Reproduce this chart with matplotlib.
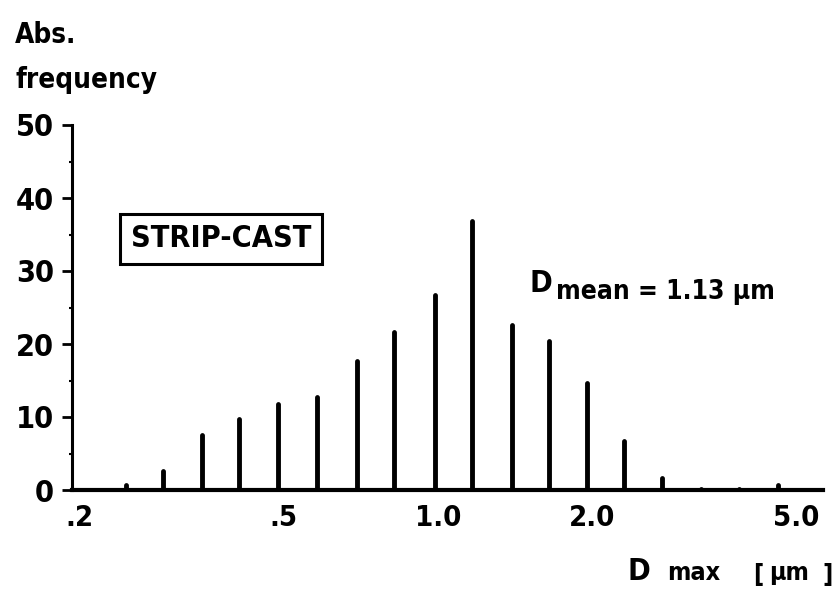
import matplotlib
matplotlib.use('Agg')
import matplotlib.pyplot as plt
from matplotlib.ticker import FixedLocator, NullLocator

# ---- data ----
sizes_um = [0.247, 0.291, 0.347, 0.410, 0.488, 0.582, 0.696, 0.822, 0.988,
            1.166, 1.395, 1.647, 1.953, 2.306, 2.734, 3.25, 3.87, 4.60]
abs_freq = [0.7, 2.6, 7.6, 9.7, 11.8, 12.7, 17.7, 21.7, 26.7,
            36.8, 22.6, 20.4, 14.6, 6.7, 1.7, 0.2, 0.2, 0.7]
y_ticks = [0, 10, 20, 30, 40, 50]
y_minor = [5, 15, 25, 35, 45]
x_ticks = [0.2, 0.5, 1.0, 2.0, 5.0]
x_tick_labels = ['.2', '.5', '1.0', '2.0', '5.0']

W, H = 840, 597
FONT = dict(family=['DejaVu Sans'], fontweight='bold', fontstretch='condensed', color='black')

fig = plt.figure(figsize=(W / 100, H / 100), dpi=100)
ax = fig.add_axes([72 / W, 1 - 490 / H, 751 / W, 365 / H])
ax.set_xscale('log')
ax.set_xlim(0.1937, 5.63)
ax.set_ylim(0, 50)

lc = ax.vlines(sizes_um, 0, abs_freq, color='black', linewidth=3.5)
lc.set_capstyle('round')

for s in ['top', 'right']:
    ax.spines[s].set_visible(False)
ax.spines['left'].set_linewidth(2.2)
ax.spines['bottom'].set_linewidth(3.0)

ax.set_yticks(y_ticks)
ax.yaxis.set_minor_locator(FixedLocator(y_minor))
ax.set_yticklabels([str(v) for v in y_ticks], **FONT, fontsize=22)
ax.tick_params(axis='y', which='major', direction='out', length=7, width=2, pad=6)
ax.tick_params(axis='y', which='minor', direction='out', length=2.5, width=1.5)

ax.set_xticks(x_ticks)
ax.xaxis.set_minor_locator(NullLocator())
ax.set_xticklabels(x_tick_labels, **FONT, fontsize=21)
ax.tick_params(axis='x', which='major', length=0, pad=10)


def ftext(x, y, s, size, **kw):
    fig.text(x / W, 1 - y / H, s, fontsize=size, va='baseline', ha=kw.pop('ha', 'left'), **FONT, **kw)


ftext(15, 43, 'Abs.', 20)
ftext(15, 88, 'frequency', 20)

fig.text(221 / W, 1 - 239 / H, 'STRIP-CAST', fontsize=22, ha='center', va='center', **FONT,
         bbox=dict(boxstyle='square,pad=0.35', fc='white', ec='black', lw=2.2))

ftext(529, 292, 'D', 22)
ftext(556, 299, 'mean = 1.13 µm', 19)

ftext(628, 580, 'D', 22)
ftext(667, 580, 'max', 18)
ftext(753, 582, '[', 18)
ftext(769, 580, 'µm', 18)
ftext(822, 582, ']', 18)

fig.savefig('out.png', dpi=100, facecolor='white')
